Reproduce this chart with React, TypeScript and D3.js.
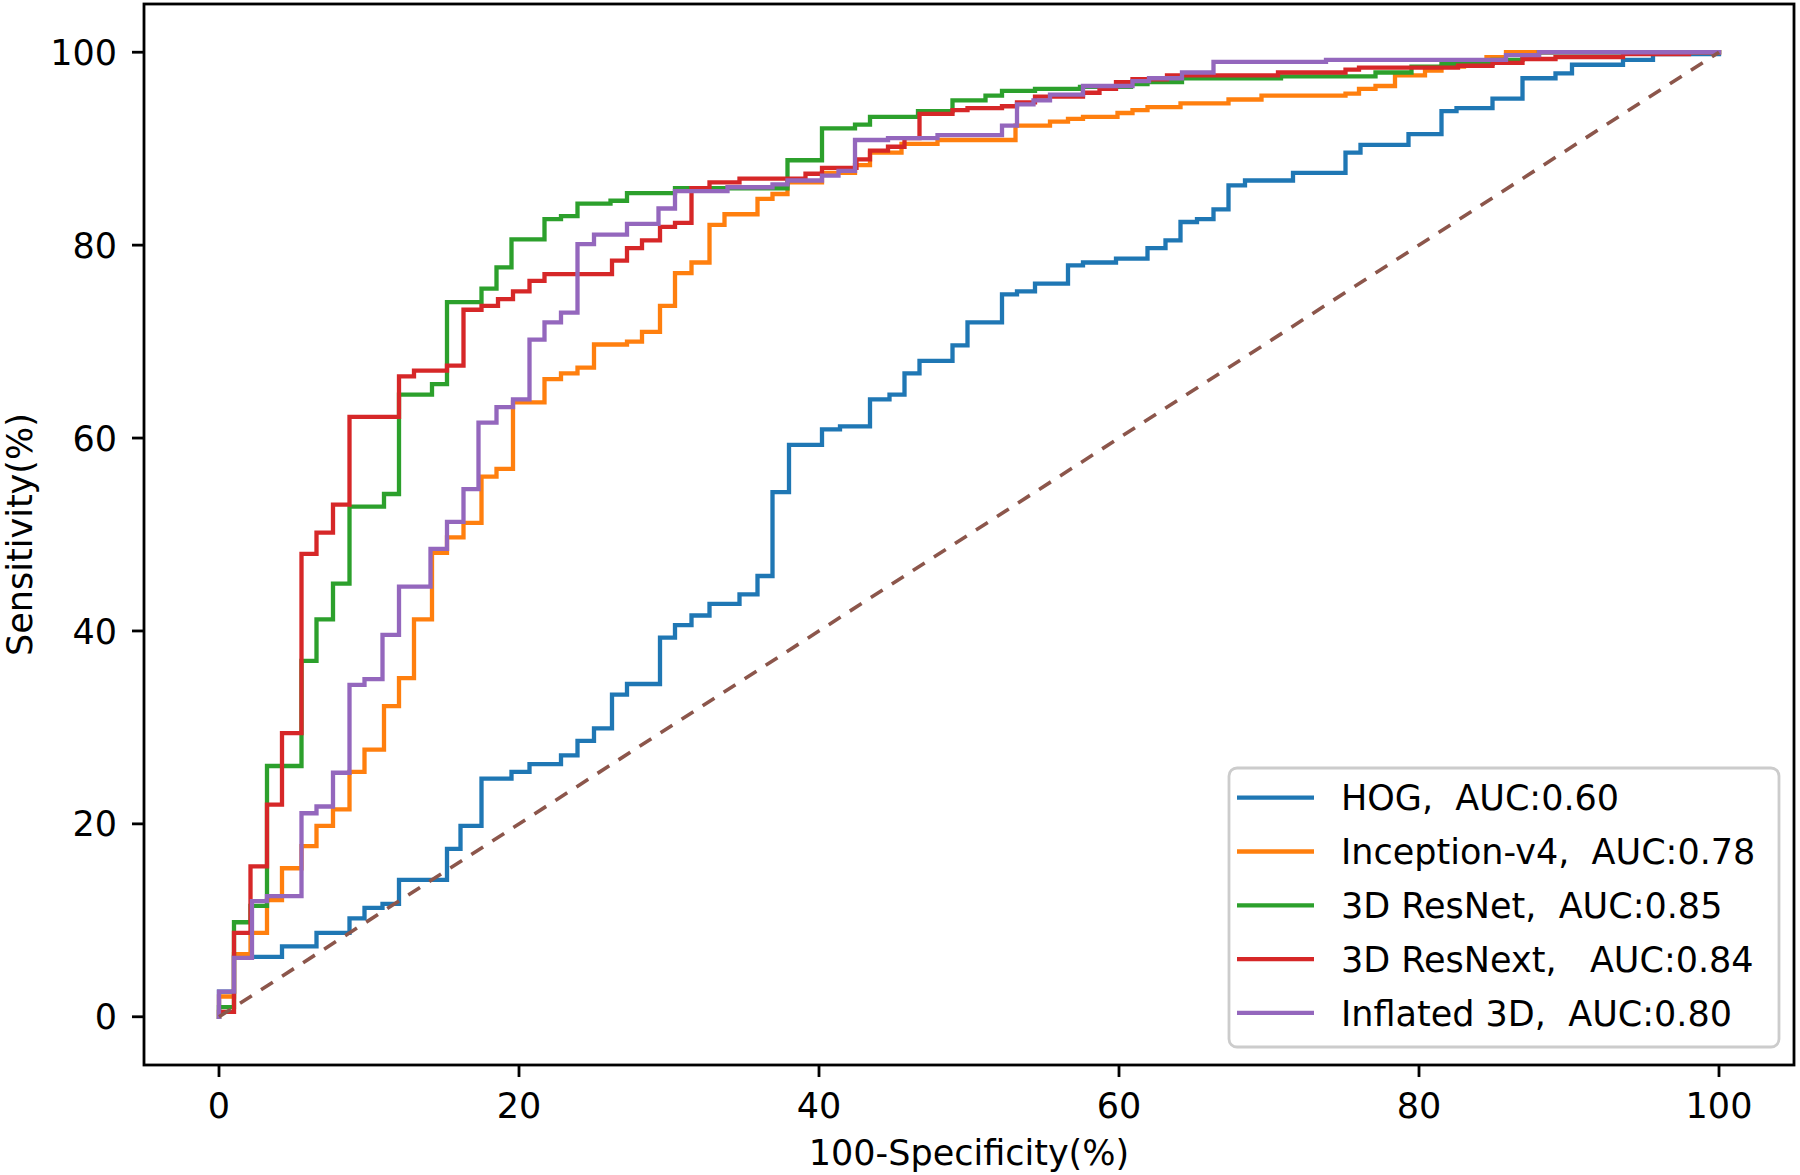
import React from "react";
import * as d3 from "d3";

// ---- data: ROC step points [100-specificity (%), sensitivity (%)] ----
const hogRoc: [number, number][] = [
  [0, 0], [0, 2.6], [1.0, 6.2], [4.2, 7.3], [6.5, 8.7], [8.7, 10.2], [9.7, 11.3], [10.9, 11.7],
  [12.0, 14.2], [15.2, 17.4], [16.1, 19.8], [17.5, 24.7], [19.5, 25.4], [20.7, 26.2], [22.8, 27.1],
  [23.9, 28.6], [25.0, 29.9], [26.2, 33.4], [27.2, 34.5], [29.4, 39.3], [30.4, 40.6], [31.5, 41.6],
  [32.7, 42.8], [34.7, 43.8], [35.9, 45.7], [36.9, 54.4], [38.0, 59.3], [40.2, 60.9], [41.4, 61.2],
  [43.4, 64.0], [44.7, 64.5], [45.7, 66.7], [46.7, 68.0], [48.9, 69.6], [49.9, 72.0], [52.2, 74.9],
  [53.2, 75.2], [54.4, 76.0], [56.6, 77.9], [57.6, 78.2], [59.8, 78.6], [61.9, 79.7], [63.1, 80.5],
  [64.1, 82.4], [65.2, 82.7], [66.3, 83.7], [67.3, 86.2], [68.4, 86.7], [71.6, 87.5], [75.1, 89.6],
  [76.1, 90.4], [79.3, 91.5], [81.5, 93.9], [82.5, 94.2], [84.9, 95.2], [86.9, 97.3], [89.1, 97.8],
  [90.2, 98.7], [93.6, 99.2], [95.6, 99.8], [100, 100],
];
const inceptionRoc: [number, number][] = [
  [0, 0], [0, 2.1], [1.0, 6.5], [2.1, 8.7], [3.2, 12.1], [4.2, 15.4], [5.5, 17.7], [6.5, 19.8],
  [7.6, 21.5], [8.7, 25.4], [9.7, 27.7], [11.0, 32.2], [12.0, 35.1], [13.0, 41.2], [14.2, 48.1],
  [15.2, 49.7], [16.3, 51.2], [17.5, 56.0], [18.5, 56.8], [19.6, 63.7], [21.7, 66.1], [22.8, 66.7],
  [23.9, 67.3], [25.0, 69.7], [27.2, 70.0], [28.2, 71.0], [29.4, 73.7], [30.4, 77.1], [31.5, 78.2],
  [32.7, 82.1], [33.7, 83.2], [35.9, 84.8], [36.9, 85.3], [37.9, 86.5], [40.2, 87.5], [42.4, 88.3],
  [43.4, 89.6], [45.5, 90.5], [47.9, 90.9], [53.1, 92.4], [55.4, 92.8], [56.6, 93.1], [57.6, 93.3],
  [59.9, 93.7], [60.9, 94.0], [61.9, 94.3], [64.1, 94.7], [67.3, 95.1], [69.5, 95.5], [75.1, 95.7],
  [76.0, 96.2], [77.1, 96.5], [78.4, 97.6], [80.4, 98.1], [81.5, 98.5], [83.0, 99.0], [84.5, 99.5],
  [85.8, 100], [100, 100],
];
const resnetRoc: [number, number][] = [
  [0, 0], [0, 1.0], [1.0, 9.8], [2.1, 11.5], [3.2, 26.0], [5.5, 36.9], [6.5, 41.2], [7.6, 44.9],
  [8.7, 52.9], [11.0, 54.2], [12.0, 64.5], [14.2, 65.6], [15.2, 74.1], [17.5, 75.5], [18.5, 77.7],
  [19.5, 80.6], [21.7, 82.7], [22.8, 83.0], [23.9, 84.3], [26.1, 84.6], [27.2, 85.4], [30.4, 85.9],
  [37.9, 88.8], [40.2, 92.1], [42.4, 92.5], [43.4, 93.3], [46.6, 93.9], [48.9, 95.0], [51.1, 95.5],
  [52.2, 96.0], [54.4, 96.2], [57.4, 96.4], [60.8, 96.7], [61.9, 96.9], [64.2, 97.3], [70.8, 97.5],
  [77.1, 97.9], [79.5, 98.5], [81.5, 98.8], [84.9, 99.2], [86.9, 99.4], [88.0, 100], [100, 100],
];
const resnextRoc: [number, number][] = [
  [0, 0], [0, 0.5], [1.0, 8.7], [2.1, 15.6], [3.2, 22.0], [4.2, 29.4], [5.5, 48.0], [6.5, 50.2],
  [7.6, 53.1], [8.7, 62.2], [12.0, 66.4], [13.0, 67.0], [15.2, 67.5], [16.3, 73.3], [17.5, 73.7],
  [18.6, 74.4], [19.6, 75.2], [20.7, 76.3], [21.7, 77.0], [26.2, 78.4], [27.2, 79.7], [28.2, 80.5],
  [29.4, 81.9], [30.4, 82.3], [31.5, 85.9], [32.7, 86.5], [34.7, 86.9], [39.1, 87.4], [40.2, 88.0],
  [42.5, 88.9], [43.4, 89.8], [44.6, 90.2], [45.7, 91.1], [46.7, 93.6], [48.9, 94.0], [49.9, 94.2],
  [52.2, 94.4], [53.2, 94.8], [54.4, 95.4], [57.6, 95.8], [58.7, 96.2], [59.8, 96.9], [60.9, 97.2],
  [63.2, 97.6], [70.6, 97.9], [75.1, 98.2], [76.0, 98.4], [82.6, 98.6], [84.9, 98.9], [86.9, 99.3],
  [89.1, 99.5], [93.6, 99.8], [98.0, 100], [100, 100],
];
const inflatedRoc: [number, number][] = [
  [0, 0], [0, 2.6], [1.0, 6.1], [2.2, 12.0], [3.2, 12.5], [5.5, 21.1], [6.5, 21.8], [7.6, 25.3],
  [8.7, 34.4], [9.7, 35.0], [10.9, 39.6], [12.0, 44.6], [14.1, 48.5], [15.2, 51.3], [16.3, 54.7],
  [17.3, 61.6], [18.5, 63.2], [19.6, 64.0], [20.7, 70.2], [21.7, 72.0], [22.8, 73.0], [23.9, 80.1],
  [25.0, 81.1], [27.2, 82.2], [29.3, 83.8], [30.4, 85.6], [33.9, 86.0], [36.9, 86.3], [37.9, 86.7],
  [40.2, 87.2], [41.3, 87.7], [42.4, 90.9], [44.6, 91.1], [47.9, 91.4], [52.2, 92.4], [53.2, 94.6],
  [54.3, 95.0], [55.4, 95.6], [57.6, 96.5], [60.9, 97.0], [62.0, 97.3], [64.2, 97.9], [66.3, 99.0],
  [73.8, 99.2], [85.8, 99.7], [88.0, 100], [100, 100],
];
const chanceLine: [number, number][] = [[0, 0], [100, 100]];

const modelNames = ["HOG", "Inception-v4", "3D ResNet", "3D ResNext", "Inflated 3D"];
const legendLabels = [
  "HOG,  AUC:0.60",
  "Inception-v4,  AUC:0.78",
  "3D ResNet,  AUC:0.85",
  "3D ResNext,   AUC:0.84",
  "Inflated 3D,  AUC:0.80",
];
const seriesColors = ["#1f77b4", "#ff7f0e", "#2ca02c", "#d62728", "#9467bd"];
const chanceColor = "#8c564b";
const xTicks = [0, 20, 40, 60, 80, 100];
const yTicks = [0, 20, 40, 60, 80, 100];
const xLabel = "100-Specificity(%)";
const yLabel = "Sensitivity(%)";

const W = 1800;
const H = 1175;
const L = 144, R = 1794, T = 4, B = 1065;
const FONT = "'DejaVu Sans', sans-serif";
const FS = 35;

export default function App() {
  const x = d3.scaleLinear().domain([-5, 105]).range([L, R]);
  const y = d3.scaleLinear().domain([-5, 105]).range([B, T]);
  const step = d3
    .line<[number, number]>()
    .x((d) => x(d[0]))
    .y((d) => y(d[1]))
    .curve(d3.curveStepAfter);
  const straight = d3
    .line<[number, number]>()
    .x((d) => x(d[0]))
    .y((d) => y(d[1]));
  const curves = [hogRoc, inceptionRoc, resnetRoc, resnextRoc, inflatedRoc];

  const legX = 1229, legY = 768, legW = 550, legH = 279;
  const rowY0 = 797.7, rowDy = 53.8;

  return (
    <svg
      width={W}
      height={H}
      viewBox={`0 0 ${W} ${H}`}
      style={{ position: "absolute", left: 0, top: 0, background: "#fff" }}
      fontFamily={FONT}
    >
      <rect x={0} y={0} width={W} height={H} fill="#fff" />
      <defs>
        <clipPath id="plotclip">
          <rect x={L} y={T} width={R - L} height={B - T} />
        </clipPath>
      </defs>
      <g clipPath="url(#plotclip)" fill="none" strokeLinejoin="miter" strokeLinecap="square">
        {curves.map((c, i) => (
          <path key={modelNames[i]} d={step(c) || ""} stroke={seriesColors[i]} strokeWidth={4.3} />
        ))}
        <path
          d={straight(chanceLine) || ""}
          stroke={chanceColor}
          strokeWidth={3.6}
          strokeDasharray="14 11"
          strokeLinecap="butt"
        />
      </g>
      {/* axes frame */}
      <rect x={L} y={T} width={R - L} height={B - T} fill="none" stroke="#000" strokeWidth={2.8} />
      {/* x ticks */}
      {xTicks.map((t) => (
        <g key={"x" + t}>
          <line x1={x(t)} x2={x(t)} y1={B} y2={B + 12} stroke="#000" strokeWidth={2.8} />
          <text x={x(t)} y={1118} fontSize={FS} textAnchor="middle" fill="#000">
            {t}
          </text>
        </g>
      ))}
      {/* y ticks */}
      {yTicks.map((t) => (
        <g key={"y" + t}>
          <line x1={L - 12} x2={L} y1={y(t)} y2={y(t)} stroke="#000" strokeWidth={2.8} />
          <text x={117} y={y(t)} dy="0.36em" fontSize={FS} textAnchor="end" fill="#000">
            {t}
          </text>
        </g>
      ))}
      <text x={(L + R) / 2} y={1165} fontSize={FS} textAnchor="middle" fill="#000">
        {xLabel}
      </text>
      <text
        transform={`translate(32, ${(T + B) / 2}) rotate(-90)`}
        fontSize={FS}
        textAnchor="middle"
        fill="#000"
      >
        {yLabel}
      </text>
      {/* legend */}
      <rect
        x={legX}
        y={legY}
        width={legW}
        height={legH}
        rx={8}
        fill="#fff"
        fillOpacity={0.8}
        stroke="#cccccc"
        strokeWidth={2.8}
      />
      {legendLabels.map((lab, i) => (
        <g key={lab}>
          <line
            x1={1237}
            x2={1314}
            y1={rowY0 + i * rowDy}
            y2={rowY0 + i * rowDy}
            stroke={seriesColors[i]}
            strokeWidth={4.3}
          />
          <text
            x={1341}
            y={rowY0 + i * rowDy}
            dy="0.36em"
            fontSize={FS}
            fill="#000"
            style={{ whiteSpace: "pre" }}
          >
            {lab}
          </text>
        </g>
      ))}
    </svg>
  );
}
